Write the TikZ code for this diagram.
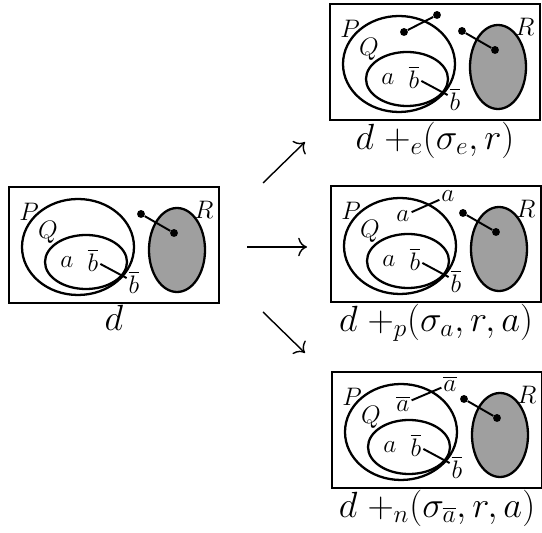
\documentclass[tikz,border=0pt]{standalone}
\usepackage{amsmath, amssymb}
\usetikzlibrary{positioning}
\usetikzlibrary{calc}
\usetikzlibrary{arrows.meta}

\begin{document}
\begin{tikzpicture}[x=0.02cm, y=-0.02cm,
    frame/.style={draw, line width=1.4pt},
    set/.style={draw, line width=1.3pt},
    dot/.style={circle, fill=black, inner sep=0pt, minimum size=4.5pt},
    lbl/.style={inner sep=1pt, font=\fontsize{14}{16}\selectfont},
    big/.style={inner sep=0.5pt, font=\fontsize{22}{25}\selectfont},
    link/.style={line width=1.1pt},
    move/.style={-{To[scale=1.5]}, line width=0.8pt}]

        \useasboundingbox (0,0) rectangle (542,533);

        % Draw the four situations: name/left/top/caption
        \foreach \b/\x/\y/\t in {d/9/187/{$d$}, e/330/4/{$d\;{+}_e(\sigma_e, r)$}, p/331/186/{$d\;{+}_p(\sigma_a, r, a)$}, n/332/372/{$d\;{+}_n(\sigma_{\overline{a}}, r, a)$}}
        {
          \begin{scope}[shift={(\x,\y)}]
            % frame and sets
            \draw[frame] (0,0) rectangle (210,116);
            \draw[set] (69,60) ellipse [x radius=56, y radius=48];
            \draw[set] (77,75) ellipse [x radius=41, y radius=27];
            \filldraw[set, fill=gray!75] (168,63) ellipse [x radius=28, y radius=42];

            % set names
            \node[lbl] (\b-P) at (20,25) {$P$};
            \node[lbl] (\b-Q) at (39,45) {$Q$};
            \node[lbl] (\b-R) at (195,23) {$R$};

            % elements
            \node[lbl] (\b-a) at (58,75) {$a$};
            \node[lbl] (\b-bb) at (84,73) {$\overline{b}$};
            \node[lbl] (\b-bo) at (125,95) {$\overline{b}$};
            \draw[link] (\b-bb) -- (\b-bo);

            % the relation r
            \node[dot] (\b-o) at (132,27) {};
            \node[dot] (\b-r) at (165,46) {};
            \draw[link] (\b-o) -- (\b-r);

            \node[big, anchor=north] (\b-cap) at (105,117) {\t};
          \end{scope}
        }

        % extra pieces of each result
        \node[dot] (e-x) at (404,32) {};
        \node[dot] (e-y) at (437,15) {};
        \draw[link] (e-x) -- (e-y);

        \node[lbl] (p-x) at (403,216) {$a$};
        \node[lbl] (p-y) at (448,196) {$a$};
        \draw[link] (p-x) -- (p-y);

        \node[lbl] (n-x) at (403,404) {$\overline{a}$};
        \node[lbl] (n-y) at (450,384) {$\overline{a}$};
        \draw[link] (n-x) -- (n-y);

        % the three moves
        \coordinate (up-s) at (263,183);
        \coordinate (up-e) at (305,142);
        \coordinate (mid-s) at (247,247);
        \coordinate (mid-e) at (307,247);
        \coordinate (dn-s) at (263,312);
        \coordinate (dn-e) at (305,353);
        \draw[move] (up-s) -- (up-e);
        \draw[move] (mid-s) -- (mid-e);
        \draw[move] (dn-s) -- (dn-e);
      \end{tikzpicture}
\end{document}
